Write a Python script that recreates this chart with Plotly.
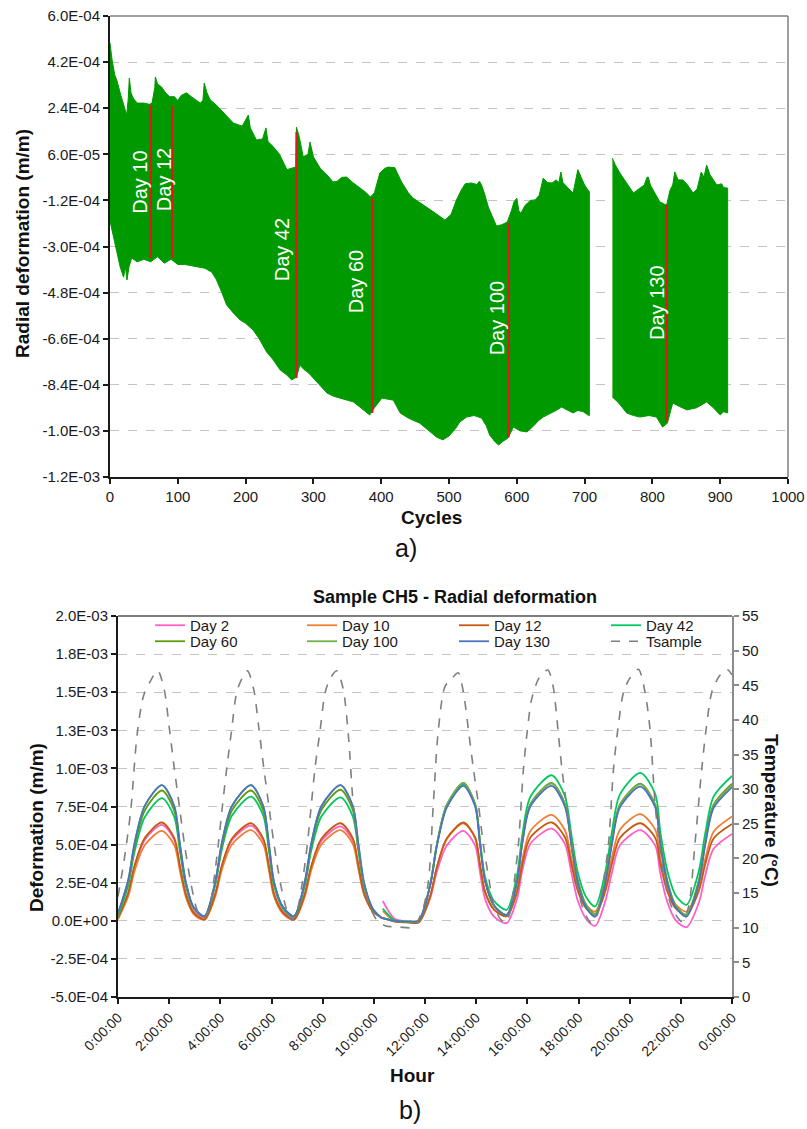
import plotly.graph_objects as go

W, H = 807, 1129
FONT = "Liberation Sans, Arial, sans-serif"
GREEN = "#009a00"
RED = "#e3141b"

# ---------------- Chart a) : envelope of radial deformation (units 1e-4 m/m) ----------------
upper_seg1 = [(0, 4.95), (3, 4.3), (7, 3.7), (10, 3.5), (15, 3.0), (20, 2.5), (24.6, 2.13), (27, 2.8),
              (28.5, 3.58), (31, 3.0), (34, 2.8), (40, 2.6), (50, 2.6), (58, 2.55), (62, 2.6), (66, 3.2),
              (67, 3.62), (70, 3.35), (76, 3.23), (82, 3.0), (88, 2.85), (95, 2.85), (100, 2.7), (105, 2.9),
              (113, 3.0), (120, 2.85), (133, 2.6), (137, 2.7), (139, 3.38), (143, 3.0), (148, 2.72),
              (157, 2.52), (170, 2.15), (182, 1.82), (195, 1.7), (204, 2.13), (207, 1.63), (216, 1.16),
              (225, 1.2), (230, 1.63), (233, 1.1), (241, 0.89), (250, 0.6), (261, 0.0), (268, 0.06),
              (274, 0.1), (275, 1.66), (279, 1.3), (285, 0.5), (292, 0.6), (295, 1.08), (300, 0.5),
              (310, 0.06), (320, -0.2), (329, -0.48), (335, -0.45), (342, -0.3), (349, -0.29), (358, -0.5),
              (369, -0.72), (378, -0.9), (384, -1.07), (390, -0.9), (398, -0.13), (405, 0.05), (410, 0.1),
              (420, 0.08), (425, -0.2), (430, -0.48), (440, -0.9), (447, -1.11), (455, -1.25), (467, -1.46),
              (480, -1.7), (494, -1.97), (503, -1.75), (511, -1.18), (518, -0.8), (524, -0.55), (533, -0.52),
              (541, -0.58), (545, -0.45), (548, -0.6), (552, -0.9), (558, -1.46), (565, -1.9), (570, -2.2),
              (578, -2.15), (586, -2.04), (592, -1.6), (596, -1.25), (600, -1.11), (603, -1.6), (606, -1.7),
              (612, -1.4), (620, -1.2), (627, -1.18), (633, -1.0), (639, -0.33), (645, -0.5), (652, -0.52),
              (658, -0.4), (662, -0.5), (665, -0.09), (668, -0.5), (675, -0.7), (683, -0.91), (687, -0.4),
              (690, 0.0), (695, -0.3), (700, -0.6), (705, -0.8), (707, -0.85)]
lower_seg1 = [(0, -2.0), (5, -2.5), (10, -3.2), (15, -3.8), (20, -4.2), (23, -3.8), (25, -4.31), (28, -3.8),
              (32, -3.45), (40, -3.6), (50, -3.5), (60, -3.6), (70, -3.4), (80, -3.65), (90, -3.5),
              (100, -3.7), (110, -3.7), (120, -3.75), (130, -3.8), (140, -3.85), (150, -4.0), (157, -4.3),
              (165, -4.8), (172, -5.28), (182, -5.6), (192, -5.87), (200, -6.0), (211, -6.26), (220, -6.6),
              (231, -7.12), (240, -7.4), (251, -7.82), (260, -8.0), (268, -8.21), (275, -8.1), (280, -7.63),
              (286, -7.8), (293, -7.94), (305, -8.3), (320, -8.72), (330, -8.85), (339, -8.92), (350, -9.0),
              (359, -9.07), (370, -9.3), (383, -9.58), (390, -9.3), (401, -8.92), (410, -8.95), (418, -9.0),
              (428, -9.5), (440, -9.7), (457, -9.9), (470, -10.2), (482, -10.45), (491, -10.55), (500, -10.4),
              (510, -10.1), (516, -9.85), (526, -9.66), (537, -9.6), (548, -9.7), (555, -10.0), (560, -10.36),
              (567, -10.6), (573, -10.75), (580, -10.6), (587, -10.48), (595, -10.05), (605, -10.2),
              (615, -10.24), (625, -10.0), (632, -9.8), (639, -9.66), (650, -9.5), (658, -9.4), (666, -9.27),
              (675, -9.4), (683, -9.5), (690, -9.4), (698, -9.45), (705, -9.58), (707, -9.6)]
upper_seg2 = [(741, 0.45), (745, 0.2), (752, -0.13), (760, -0.45), (772, -0.91), (780, -0.75), (788, -0.6),
              (792, -0.3), (794, -0.29), (797, -0.6), (805, -1.0), (811, -1.26), (818, -1.35), (821, -1.38),
              (826, -0.8), (830, -0.6), (833, -0.09), (838, -0.4), (845, -0.4), (852, -0.6), (860, -0.91),
              (866, -0.75), (872, -0.09), (876, -0.3), (880, 0.18), (885, -0.2), (890, -0.4), (895, -0.6),
              (902, -0.55), (905, -0.7), (911, -0.72)]
lower_seg2 = [(741, -8.88), (750, -9.1), (762, -9.5), (772, -9.6), (782, -9.66), (795, -9.6), (806, -9.66),
              (815, -10.05), (822, -9.9), (830, -9.11), (840, -9.25), (851, -9.38), (865, -9.3), (880, -9.07),
              (890, -9.3), (900, -9.58), (905, -9.45), (911, -9.5)]

day_labels = ["Day 10", "Day 12", "Day 42", "Day 60", "Day 100", "Day 130"]
day_cycles = [60, 91.5, 275, 387, 588, 821]
day_top_e4 = [2.52, 2.48, 1.47, -1.11, -2.08, -1.38]
day_bottom_e4 = [-3.45, -3.46, -8.14, -9.5, -10.45, -9.84]
label_cycles = [44, 80, 254, 363, 571, 807]
label_e4 = [-0.48, -0.4, -3.14, -4.39, -5.8, -5.2]

top_tickvals = [6.0e-4, 4.2e-4, 2.4e-4, 0.6e-4, -1.2e-4, -3.0e-4, -4.8e-4, -6.6e-4, -8.4e-4, -10.2e-4, -12.0e-4]
top_ticktext = ["6.0E-04", "4.2E-04", "2.4E-04", "6.0E-05", "-1.2E-04", "-3.0E-04", "-4.8E-04",
                "-6.6E-04", "-8.4E-04", "-1.0E-03", "-1.2E-03"]

# ---------------- Chart b) : daily radial deformation (units 1e-4 m/m) ----------------
hours = [0.0, 0.4, 0.65, 1.05, 1.72, 2.2, 2.42, 2.65, 2.95,
         3.38, 3.8, 4.05, 4.45, 5.2, 5.68, 5.9, 6.1, 6.45,
         6.88, 7.3, 7.55, 7.95, 8.7, 9.18, 9.4, 9.62, 9.95,
         10.3, 10.35, 10.8, 11.3, 11.75,
         12.2, 12.46, 12.85, 13.5, 13.96, 14.15, 14.35, 14.7,
         15.19, 15.6, 15.8, 16.12, 16.95, 17.47, 17.72, 17.97, 18.3,
         18.65, 19.05, 19.3, 19.62, 20.42, 21.0, 21.2, 21.47, 21.8,
         22.22, 22.7, 22.95, 23.28, 24.0]

day2 = [0.2, 1.79, 3.56, 5.32, 6.3, 5.32, 3.55, 1.79, 0.63,
        0.2, 1.77, 3.53, 5.28, 6.25, 5.28, 3.53, 1.77, 0.62,
        0.2, 1.76, 3.5, 5.24, 6.2, 5.24, 3.5, 1.76, 0.62,
        None, 1.3, 0.15, -0.05, -0.1,
        1.46, 3.2, 4.94, 5.9, 4.93, 3.18, 1.42, 0.27,
        -0.15, 1.46, 3.26, 5.06, 6.05, 5.03, 3.18, 1.33, 0.12,
        -0.33, 1.3, 3.12, 4.95, 5.95, 4.93, 3.08, 1.24, 0.03,
        -0.42, 1.17, 2.95, 4.72, 5.7]
day10 = [0.1, 1.61, 3.29, 4.97, 5.9, 4.96, 3.27, 1.57, 0.46,
         0.05, 1.58, 3.3, 5.01, 5.95, 5.01, 3.29, 1.58, 0.46,
         0.05, 1.58, 3.3, 5.01, 5.95, 5.03, 3.36, 1.69, 0.6,
         None, 0.65, 0.0, -0.1, -0.1,
         1.59, 3.48, 5.36, 6.4, 5.42, 3.65, 1.89, 0.73,
         0.3, 2.03, 3.96, 5.89, 6.95, 5.94, 4.1, 2.26, 1.05,
         0.61, 2.27, 4.12, 5.98, 7.0, 5.98, 4.12, 2.27, 1.06,
         0.61, 2.23, 4.04, 5.85, 6.85]
day12 = [0.2, 1.83, 3.64, 5.45, 6.45, 5.43, 3.59, 1.75, 0.54,
         0.1, 1.74, 3.57, 5.39, 6.4, 5.39, 3.56, 1.74, 0.54,
         0.1, 1.74, 3.57, 5.39, 6.4, 5.41, 3.61, 1.81, 0.63,
         0.2, 0.18, -0.05, -0.1, -0.1,
         1.6, 3.5, 5.4, 6.45, 5.47, 3.68, 1.9, 0.73,
         0.3, 1.9, 3.68, 5.47, 6.45, 5.48, 3.72, 1.97, 0.81,
         0.39, 1.95, 3.7, 5.44, 6.4, 5.44, 3.7, 1.95, 0.81,
         0.39, 1.94, 3.67, 5.4, 6.35]
day42 = [0.3, 2.32, 4.56, 6.81, 8.05, 6.81, 4.56, 2.31, 0.84,
         0.3, 2.34, 4.62, 6.89, 8.15, 6.89, 4.59, 2.3, 0.8,
         0.25, 2.29, 4.57, 6.84, 8.1, 6.84, 4.54, 2.25, 0.75,
         None, 0.8, 0.05, -0.05, 0.0,
         2.33, 4.92, 7.52, 8.95, 7.63, 5.25, 2.86, 1.3,
         0.72, 3.02, 5.58, 8.14, 9.55, 8.17, 5.68, 3.18, 1.54,
         0.94, 3.22, 5.76, 8.3, 9.7, 8.32, 5.81, 3.3, 1.66,
         1.05, 3.25, 5.7, 8.15, 9.5]
day60 = [0.4, 2.52, 4.88, 7.25, 8.55, 7.23, 4.84, 2.44, 0.88,
         0.3, 2.45, 4.84, 7.23, 8.55, 7.23, 4.84, 2.44, 0.88,
         0.3, 2.46, 4.87, 7.27, 8.6, 7.26, 4.82, 2.38, 0.79,
         0.2, 0.18, 0.0, -0.05, 0.0,
         2.35, 4.98, 7.6, 9.05, 7.66, 5.15, 2.64, 1.0,
         0.39, 2.64, 5.15, 7.66, 9.05, 7.67, 5.18, 2.68, 1.04,
         0.44, 2.67, 5.15, 7.63, 9.0, 7.62, 5.13, 2.63, 0.99,
         0.39, 2.63, 5.13, 7.62, 9.0]
day100 = [0.45, 2.65, 5.1, 7.55, 8.9, 7.52, 5.03, 2.54, 0.9,
          0.3, 2.54, 5.03, 7.52, 8.9, 7.52, 5.03, 2.54, 0.9,
          0.3, 2.54, 5.03, 7.52, 8.9, 7.51, 4.98, 2.46, 0.81,
          0.2, 0.18, 0.0, -0.05, 0.0,
          2.35, 4.98, 7.6, 9.05, 7.66, 5.15, 2.64, 1.0,
          0.39, 2.63, 5.13, 7.62, 9.0, 7.62, 5.13, 2.64, 1.0,
          0.4, 2.62, 5.1, 7.58, 8.95, 7.57, 5.08, 2.59, 0.95,
          0.35, 2.57, 5.05, 7.53, 8.9]
day130 = [0.5, 2.68, 5.12, 7.56, 8.9, 7.52, 5.03, 2.54, 0.9,
          0.3, 2.54, 5.03, 7.52, 8.9, 7.52, 5.03, 2.54, 0.9,
          0.3, 2.54, 5.03, 7.52, 8.9, 7.51, 4.98, 2.46, 0.81,
          0.2, 0.18, 0.0, -0.05, 0.0,
          2.3, 4.87, 7.43, 8.85, 7.5, 5.04, 2.59, 0.98,
          0.39, 2.59, 5.04, 7.5, 8.85, 7.48, 4.99, 2.5, 0.87,
          0.27, 2.49, 4.96, 7.44, 8.8, 7.44, 4.96, 2.49, 0.87,
          0.27, 2.48, 4.94, 7.4, 8.76]

tsample = [(0.0, 14.5), (0.25, 20), (0.5, 27), (0.75, 38), (1.0, 43.5), (1.25, 45.5), (1.55, 47.1),
           (1.8, 44.5), (2.0, 39), (2.2, 33), (2.4, 27.5), (2.6, 22), (2.85, 16.4), (3.1, 12.5), (3.33, 11.4),
           (3.55, 12.5), (3.73, 16.4), (3.92, 22), (4.08, 27.5), (4.25, 33), (4.44, 38.5), (4.64, 44),
           (4.85, 46), (5.06, 47.1), (5.3, 44.5), (5.5, 39), (5.7, 33), (5.9, 27.5), (6.1, 22), (6.35, 16.4),
           (6.6, 12.5), (6.79, 11.1), (7.0, 12.5), (7.2, 16.4), (7.4, 22), (7.55, 27.5), (7.7, 33),
           (7.9, 38.5), (8.1, 44), (8.3, 46), (8.55, 47.1), (8.8, 44.5), (9.0, 38), (9.2, 27.5), (9.4, 21),
           (9.59, 16.4), (9.85, 13), (10.1, 11.2), (10.44, 10.3), (11.0, 10.1), (11.54, 10.1), (11.9, 12.5),
           (12.13, 16.6), (12.32, 27.5), (12.52, 38.5), (12.78, 44.8), (13.05, 46), (13.3, 46.8), (13.5, 44),
           (13.7, 38.5), (13.89, 33), (14.1, 27.5), (14.28, 22), (14.5, 17), (14.67, 13.5), (14.9, 11.5),
           (15.13, 10.7), (15.35, 12.5), (15.5, 17), (15.65, 22), (15.85, 33), (16.0, 38.5), (16.17, 43),
           (16.45, 46), (16.8, 47.2), (17.0, 45), (17.2, 38.5), (17.35, 33), (17.54, 27.5), (17.75, 21),
           (17.93, 16.4), (18.2, 12.5), (18.5, 10.7), (18.75, 12), (18.95, 16), (19.17, 22), (19.37, 33),
           (19.55, 39), (19.76, 44), (20.0, 46), (20.34, 47.3), (20.6, 44), (20.8, 38.5), (21.0, 27.5),
           (21.2, 21), (21.38, 16.4), (21.7, 12.5), (22.04, 10.9), (22.3, 13), (22.55, 22), (22.82, 33),
           (23.0, 39), (23.21, 44), (23.5, 46.3), (23.8, 47.3), (24.0, 46.5)]

series_names = ["Day 2", "Day 10", "Day 12", "Day 42", "Day 60", "Day 100", "Day 130"]
series_values = [day2, day10, day12, day42, day60, day100, day130]
series_colors = ["#ff5fc8", "#f07f35", "#c55a11", "#00c85f", "#5e9a0c", "#72b04a", "#4a73c0"]
series_legend = ["legend", "legend", "legend", "legend", "legend2", "legend2", "legend2"]

hour_tickvals = list(range(0, 25, 2))
hour_ticktext = ["0:00:00", "2:00:00", "4:00:00", "6:00:00", "8:00:00", "10:00:00", "12:00:00",
                 "14:00:00", "16:00:00", "18:00:00", "20:00:00", "22:00:00", "0:00:00"]
b_tickvals = [-5e-4, -2.5e-4, 0, 2.5e-4, 5e-4, 7.5e-4, 1e-3, 1.25e-3, 1.5e-3, 1.75e-3, 2e-3]
b_ticktext = ["-5.0E-04", "-2.5E-04", "0.0E+00", "2.5E-04", "5.0E-04", "7.5E-04", "1.0E-03",
              "1.3E-03", "1.5E-03", "1.8E-03", "2.0E-03"]


def e4(v):
    return None if v is None else v * 1e-4


def px(x, y):
    return x / W, 1 - y / H


fig = go.Figure()

for up, lo in [(upper_seg1, lower_seg1), (upper_seg2, lower_seg2)]:
    xs = [c for c, _ in up] + [c for c, _ in lo[::-1]]
    ys = [e4(v) for _, v in up] + [e4(v) for _, v in lo[::-1]]
    fig.add_trace(go.Scatter(x=xs, y=ys, mode="lines", fill="toself", fillcolor=GREEN,
                             line=dict(color=GREEN, width=1), showlegend=False, hoverinfo="skip",
                             xaxis="x", yaxis="y"))

for c, t, b in zip(day_cycles, day_top_e4, day_bottom_e4):
    fig.add_trace(go.Scatter(x=[c, c], y=[e4(t), e4(b)], mode="lines", line=dict(color=RED, width=2),
                             showlegend=False, hoverinfo="skip", xaxis="x", yaxis="y"))

for name, vals, col, lg in zip(series_names, series_values, series_colors, series_legend):
    fig.add_trace(go.Scatter(x=hours, y=[e4(v) for v in vals], mode="lines", name=name, legend=lg,
                             line=dict(color=col, width=1.8, shape="spline", smoothing=0.8),
                             connectgaps=False, xaxis="x2", yaxis="y2"))

fig.add_trace(go.Scatter(x=[h for h, _ in tsample], y=[t for _, t in tsample], mode="lines", name="Tsample",
                         legend="legend2",
                         line=dict(color="#7f7f7f", width=1.6, dash="dash", shape="spline", smoothing=0.8),
                         xaxis="x2", yaxis="y3"))

axis_common = dict(ticks="outside", ticklen=5, tickwidth=2, tickcolor="#1a1a1a", showline=True,
                   linecolor="#1a1a1a", linewidth=2, zeroline=False, automargin=False,
                   tickfont=dict(size=15, color="#1a1a1a"))
grid = dict(showgrid=True, gridcolor="#c4c4c4", griddash="dash", gridwidth=1)
legend_common = dict(orientation="h", xanchor="left", yanchor="top", entrywidth=107,
                     entrywidthmode="pixels", font=dict(size=15, color="#1a1a1a"),
                     bgcolor="rgba(0,0,0,0)", itemwidth=30, tracegroupgap=0)

fig.update_layout(
    width=W, height=H, margin=dict(l=0, r=0, t=0, b=0, autoexpand=False),
    paper_bgcolor="white", plot_bgcolor="rgba(0,0,0,0)",
    font=dict(family=FONT, size=15, color="#1a1a1a"),
    showlegend=True,
    xaxis=dict(domain=[110 / W, 788 / W], anchor="y", range=[0, 1000], tickvals=list(range(0, 1001, 100)),
               showgrid=False, **axis_common),
    yaxis=dict(domain=[1 - 477 / H, 1 - 16 / H], anchor="x", range=[-1.2e-3, 6e-4], tickvals=top_tickvals,
               ticktext=top_ticktext, **grid, **axis_common),
    xaxis2=dict(domain=[118 / W, 732 / W], anchor="y2", range=[0, 24], tickvals=hour_tickvals,
                ticktext=hour_ticktext, tickangle=-45, showgrid=False,
                **{**axis_common, "tickfont": dict(size=14, color="#1a1a1a")}),
    yaxis2=dict(domain=[1 - 997 / H, 1 - 616 / H], anchor="x2", range=[-5e-4, 2e-3], tickvals=b_tickvals,
                ticktext=b_ticktext, **grid, **axis_common),
    yaxis3=dict(overlaying="y2", anchor="x2", side="right", range=[0, 55], tickvals=list(range(0, 56, 5)),
                showgrid=False, ticks="outside", ticklen=5, tickwidth=2, tickcolor="#8c8c8c", showline=True,
                linecolor="#8c8c8c", linewidth=2, zeroline=False, automargin=False,
                tickfont=dict(size=15, color="#1a1a1a")),
    legend=dict(x=150 / W, y=1 - 609 / H, **legend_common),
    legend2=dict(x=150 / W, y=1 - 625 / H, **legend_common),
)

# frame lines (top/right borders)
shapes = []
x0, y0 = px(110, 16)
x1, y1 = px(788, 477)
shapes.append(dict(type="line", xref="paper", yref="paper", x0=x0, y0=y0, x1=x1, y1=y0,
                   line=dict(color="#7f7f7f", width=1.5)))
shapes.append(dict(type="line", xref="paper", yref="paper", x0=x1, y0=y0, x1=x1, y1=y1,
                   line=dict(color="#7f7f7f", width=1.5)))
bx0, by0 = px(118, 616)
bx1, _ = px(732, 616)
shapes.append(dict(type="line", xref="paper", yref="paper", x0=bx0, y0=by0, x1=bx1, y1=by0,
                   line=dict(color="#555555", width=1.5)))
fig.update_layout(shapes=shapes)

ann = []
for lab, c, v in zip(day_labels, label_cycles, label_e4):
    ann.append(dict(x=c, y=e4(v), xref="x", yref="y", text=lab, textangle=-90, showarrow=False,
                    font=dict(size=20, color="white", family=FONT), xanchor="center", yanchor="middle"))


def add_text(text, x, y, size, angle=0, bold=False):
    ax, ay = px(x, y)
    ann.append(dict(x=ax, y=ay, xref="paper", yref="paper", text=f"<b>{text}</b>" if bold else text,
                    showarrow=False, textangle=angle, xanchor="center", yanchor="middle",
                    font=dict(size=size, color="#111111", family=FONT)))


add_text("Radial deformation (m/m)", 23, 244, 19, angle=-90, bold=True)
add_text("Cycles", 432, 517, 19, bold=True)
add_text("a)", 406, 548, 25)
add_text("Sample CH5 - Radial deformation", 455, 597, 18, bold=True)
add_text("Deformation (m/m)", 36, 828, 19, angle=-90, bold=True)
add_text("Temperature (°C)", 772, 810, 19, angle=90, bold=True)
add_text("Hour", 412, 1075, 19, bold=True)
add_text("b)", 410, 1110, 25)
fig.update_layout(annotations=ann)

fig.write_html("out.html", config={"displayModeBar": False},
               post_script="document.body.style.margin='0px';")
